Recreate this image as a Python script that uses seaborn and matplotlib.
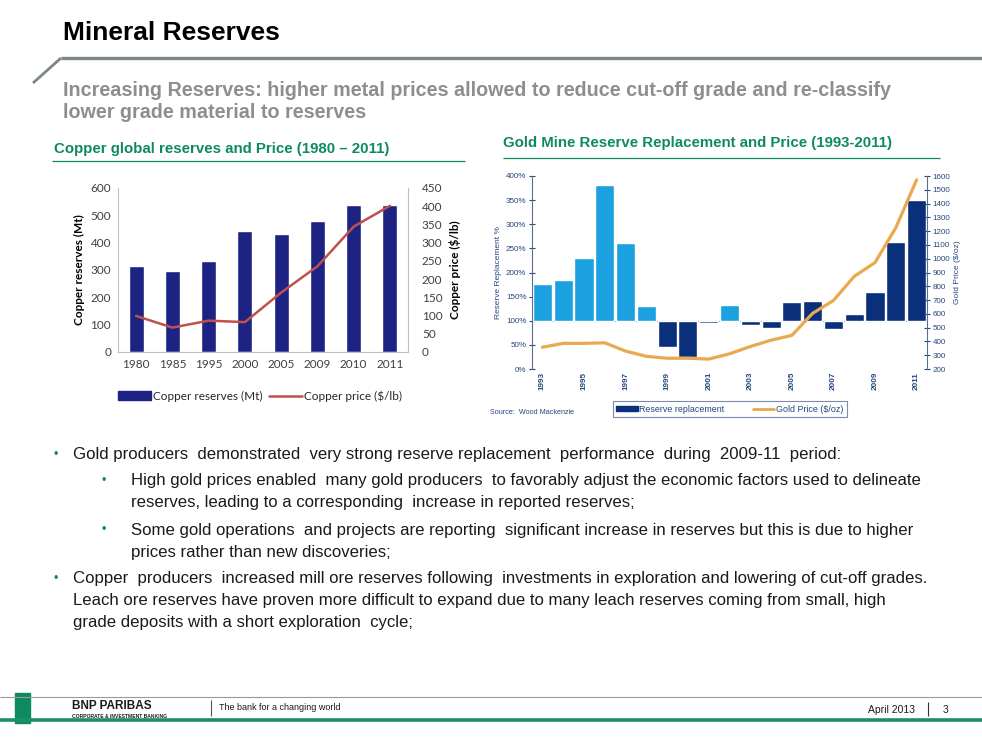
import matplotlib.pyplot as plt
import matplotlib.lines as mlines
import matplotlib.patches as mpatches
import seaborn as sns
import numpy as np
import pandas as pd

# copper data
cu_years = ["1980", "1985", "1995", "2000", "2005", "2009", "2010", "2011"]
cu_reserves = [315, 295, 333, 442, 432, 480, 537, 537]
cu_price = [99, 67, 86, 82, 163, 235, 344, 401]

# gold data
au_years = [str(y) for y in range(1993, 2012)]
au_replacement = [177, 184, 231, 381, 262, 131, 46, 24, 96, 133, 92, 85,
                  139, 141, 83, 115, 159, 263, 351]
au_shade = ["light"] * 6 + ["dark"] * 3 + ["light"] + ["dark"] * 9
au_price = [358, 386, 386, 390, 330, 292, 278, 278, 272, 310, 363, 409,
            444, 604, 697, 872, 972, 1225, 1572]

NAVY_CU = "#1C2383"
RED_CU = "#C0504D"
LIGHT_AU = "#1BA1DF"
DARK_AU = "#0A2F7B"
GOLD = "#E9A94E"
AU_TXT = "#24477F"
GREEN = "#0E8A5F"
SANS = ["Liberation Sans", "DejaVu Sans"]

sns.set_theme(style="white")
plt.rcParams["font.family"] = SANS

fig = plt.figure(figsize=(9.82, 7.56), dpi=100)
W, H = 982, 756


def px(x, y):
    return x / W, 1 - y / H


def seg(x0, y0, x1, y1, color, lw):
    fig.add_artist(mlines.Line2D([x0 / W, x1 / W], [1 - y0 / H, 1 - y1 / H],
                                 color=color, lw=lw, transform=fig.transFigure,
                                 solid_capstyle="butt"))


# ---- slide header
fig.text(*px(63, 33), "Mineral Reserves", fontsize=19, fontweight="bold",
         va="center", ha="left", color="black")
seg(61, 58, 982, 58, "#7A8789", 2.4)
seg(61, 58, 33, 83, "#7A8789", 2.0)
fig.text(*px(63, 90), "Increasing Reserves: higher metal prices allowed to reduce cut-off grade and re-classify",
         fontsize=14.2, fontweight="bold", color="#8E8E8E", va="center")
fig.text(*px(63, 112), "lower grade material to reserves",
         fontsize=14.2, fontweight="bold", color="#8E8E8E", va="center")

fig.text(*px(54, 149), "Copper global reserves and Price (1980 \u2013 2011)",
         fontsize=10.8, fontweight="bold", color=GREEN, va="center")
seg(52, 161, 465, 161, GREEN, 0.9)
fig.text(*px(503, 143), "Gold Mine Reserve Replacement and Price (1993-2011)",
         fontsize=10.8, fontweight="bold", color=GREEN, va="center")
seg(503, 158, 940, 158, GREEN, 0.9)

# ---- copper chart
cu = pd.DataFrame({"year": cu_years, "reserves": cu_reserves,
                   "price": cu_price, "pos": np.arange(len(cu_years))})
ax1 = fig.add_axes([118 / W, 1 - 352 / H, 290 / W, 164 / H])
sns.barplot(data=cu, x="year", y="reserves", color=NAVY_CU, width=0.41,
            saturation=1, ax=ax1)
ax1.set_ylim(0, 600)
ax1.set_xlim(-0.5, len(cu_years) - 0.5)
ax1.set_yticks(range(0, 601, 100))
ax1.set_xlabel("")
ax1.set_ylabel("Copper reserves (Mt)", fontsize=8.5, fontweight="bold",
               family="Lato", color="black", labelpad=4)
ax1.tick_params(axis="both", labelsize=8.5, colors="#404040", length=0, pad=5)
for lab in ax1.get_xticklabels() + ax1.get_yticklabels():
    lab.set_family("Lato")
ax1.spines["top"].set_visible(False)
for side in ["left", "right", "bottom"]:
    ax1.spines[side].set_color("#BFBFBF")
    ax1.spines[side].set_linewidth(0.8)

ax1b = ax1.twinx()
sns.lineplot(data=cu, x="pos", y="price", color=RED_CU, lw=1.8, ax=ax1b)
ax1b.set_ylim(0, 450)
ax1b.set_yticks(range(0, 451, 50))
ax1b.set_ylabel("Copper price ($/lb)", fontsize=8.5, fontweight="bold",
                family="Lato", color="black", labelpad=5)
ax1b.tick_params(axis="y", labelsize=8.5, colors="#404040", length=0, pad=10)
for lab in ax1b.get_yticklabels():
    lab.set_family("Lato")
for s in ax1b.spines.values():
    s.set_visible(False)
ax1b.grid(False)
ax1.grid(False)

h1 = mpatches.Patch(color=NAVY_CU, label="Copper reserves (Mt)")
h2 = mlines.Line2D([], [], color=RED_CU, lw=1.8, label="Copper price ($/lb)")
fig.legend(handles=[h1, h2], loc="center", bbox_to_anchor=px(260, 396),
           ncol=2, frameon=False, prop={"family": "Lato", "size": 8.5},
           handlelength=2.8, handletextpad=0.2, columnspacing=0.5)

# ---- gold chart
au = pd.DataFrame({"year": au_years, "rel": np.array(au_replacement) - 100,
                   "shade": au_shade, "price": au_price,
                   "pos": np.arange(len(au_years))})
ax2 = fig.add_axes([532 / W, 1 - 369 / H, 395 / W, 193 / H])
sns.barplot(data=au, x="year", y="rel", hue="shade",
            palette={"light": LIGHT_AU, "dark": DARK_AU}, dodge=False,
            width=0.92, saturation=1, bottom=100, legend=False, ax=ax2)
ax2.axhline(100, color="#8C9BB3", lw=0.8, zorder=0)
ax2.set_ylim(0, 400)
ax2.set_xlim(-0.5, len(au_years) - 0.5)
ax2.set_yticks(range(0, 401, 50))
ax2.set_yticklabels([f"{v}%" for v in range(0, 401, 50)])
ax2.set_xticks(range(0, len(au_years), 2))
ax2.set_xticklabels(au_years[::2], rotation=90, fontsize=5.9,
                    fontweight="bold", color=AU_TXT)
ax2.set_xlabel("")
ax2.set_ylabel("Reserve Replacement %", fontsize=6, color=AU_TXT, labelpad=3)
ax2.tick_params(axis="y", labelsize=5.8, colors=AU_TXT, direction="inout",
                length=4, width=0.8, pad=2)
ax2.tick_params(axis="x", length=0, pad=2)
for side in ["top", "right", "bottom"]:
    ax2.spines[side].set_visible(False)
ax2.spines["left"].set_color("#5A6E92")
ax2.spines["left"].set_linewidth(0.8)
ax2.grid(False)

ax2b = ax2.twinx()
sns.lineplot(data=au, x="pos", y="price", color=GOLD, lw=2.3, ax=ax2b)
ax2b.set_ylim(200, 1600)
ax2b.set_yticks(range(200, 1601, 100))
ax2b.set_ylabel("Gold Price ($/oz)", fontsize=6, color=AU_TXT, labelpad=3)
ax2b.tick_params(axis="y", labelsize=5.8, colors=AU_TXT, direction="inout",
                 length=4, width=0.8, pad=2)
for side in ["top", "left", "bottom"]:
    ax2b.spines[side].set_visible(False)
ax2b.spines["right"].set_color("#5A6E92")
ax2b.spines["right"].set_linewidth(0.8)
ax2b.grid(False)

fig.text(*px(490, 413), "Source:  Wood Mackenzie", fontsize=5.2,
         color=AU_TXT, va="center")
g1 = mpatches.Patch(color=DARK_AU, label="Reserve replacement")
g2 = mlines.Line2D([], [], color=GOLD, lw=2, label="Gold Price ($/oz)")
leg = fig.legend(handles=[g1, g2], loc="center", bbox_to_anchor=px(730, 409),
                 ncol=2, frameon=True, fancybox=False,
                 prop={"size": 6.4}, handlelength=2.4, handleheight=0.5,
                 handletextpad=0.2, columnspacing=3.2, borderpad=0.35)
leg.get_frame().set_edgecolor("#5A6E92")
leg.get_frame().set_linewidth(0.8)
for t in leg.get_texts():
    t.set_color(AU_TXT)

# ---- bullet text
body = [
    (53, 73, 455, "Gold producers  demonstrated  very strong reserve replacement  performance  during  2009-11  period:"),
    (102, 131, 481, "High gold prices enabled  many gold producers  to favorably adjust the economic factors used to delineate"),
    (None, 131, 503, "reserves, leading to a corresponding  increase in reported reserves;"),
    (102, 131, 530, "Some gold operations  and projects are reporting  significant increase in reserves but this is due to higher"),
    (None, 131, 552, "prices rather than new discoveries;"),
    (53, 73, 579, "Copper  producers  increased mill ore reserves following  investments in exploration and lowering of cut-off grades."),
    (None, 73, 601, "Leach ore reserves have proven more difficult to expand due to many leach reserves coming from small, high"),
    (None, 73, 622, "grade deposits with a short exploration  cycle;"),
]
for bx, tx, y, s in body:
    if bx is not None:
        fig.text(*px(bx, y), "\u2022", fontsize=9, color=GREEN, va="center")
    fig.text(*px(tx, y), s, fontsize=12.1, color="#1A1A1A", va="center")

# ---- footer
seg(0, 697, 982, 697, "#9A9A9A", 0.8)
seg(0, 720, 982, 720, "#1B8E6B", 2.6)
fig.add_artist(mpatches.Rectangle(px(15, 723), 15 / W, 30 / H,
                                  color="#0E8A5F", transform=fig.transFigure))
fig.text(*px(72, 706), "BNP PARIBAS", fontsize=8.5, fontweight="bold",
         color="#1A1A1A", va="center")
fig.text(*px(72, 716), "CORPORATE & INVESTMENT BANKING", fontsize=3.6,
         fontweight="bold", color="#1A1A1A", va="center")
seg(211, 700, 211, 716, "#555555", 0.8)
fig.text(*px(219, 708), "The bank for a changing world", fontsize=6.5,
         color="#1A1A1A", va="center")
fig.text(*px(868, 710), "April 2013", fontsize=7.5, color="#1A1A1A",
         va="center")
seg(928, 702, 928, 716, "#333333", 0.8)
fig.text(*px(943, 710), "3", fontsize=7.5, color="#1A1A1A", va="center")

fig.savefig("out.png", dpi=100)
